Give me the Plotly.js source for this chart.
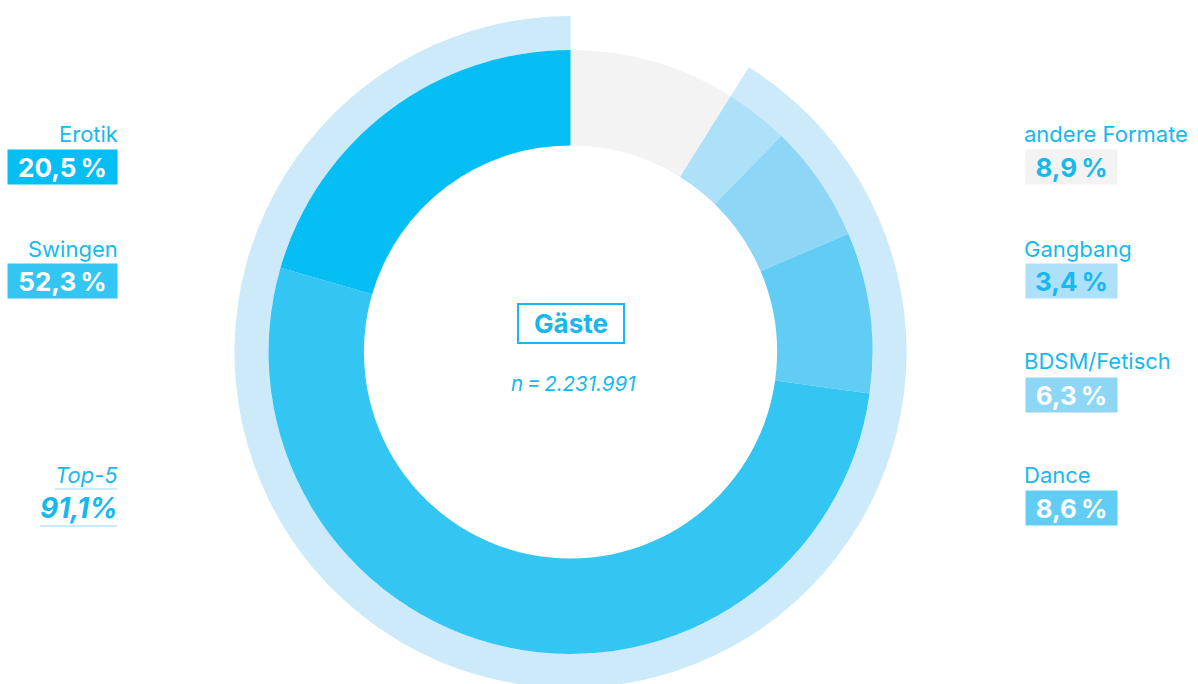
<!DOCTYPE html>
<html>
<head>
<meta charset="utf-8">
<script src="https://cdn.plot.ly/plotly-3.0.1.min.js"></script>
<style>
html,body{margin:0;padding:0;overflow:hidden;background:#fff;}
#chart{width:1198px;height:720px;}
</style>
</head>
<body>
<div id="chart"></div>
<script>
// ---- data ----
const categories = ["andere Formate", "Gangbang", "BDSM/Fetisch", "Dance", "Swingen", "Erotik"];
const shares = [8.9, 3.4, 6.3, 8.6, 52.3, 20.5];
const valueLabels = ["8,9\u2009%", "3,4\u2009%", "6,3\u2009%", "8,6\u2009%", "52,3\u2009%", "20,5\u2009%"];
const groupNames = ["andere Formate", "Top-5"];
const groupShares = [8.9, 91.1];
const groupLabel = "Top-5";
const groupValueLabel = "91,1%";
const centerTitle = "Gäste";
const centerSub = "n\u2009=\u20092.231.991";

// ---- style ----
const W = 1198, H = 720;
const px = x => x / W;
const py = y => 1 - y / H;
const blue = "#17b8ee";
const sliceColors = ["#f3f3f3", "#ade0f9", "#8dd6f5", "#62cdf4", "#33c6f3", "#05bef4"];
const groupColors = ["rgba(0,0,0,0)", "#cceafa"];
const valueTextColors = [blue, blue, "#ffffff", "#ffffff", "#ffffff", "#ffffff"];
const FONT = "Inter, 'Open Sans', sans-serif";

const traces = [
  {
    type: "pie", labels: groupNames, values: groupShares, sort: false,
    direction: "clockwise", rotation: 0, hole: 0.899,
    marker: {colors: groupColors, line: {width: 0}},
    textinfo: "none", hoverinfo: "skip", showlegend: false,
    domain: {x: [px(234.5), px(906.5)], y: [py(688), py(16)]}
  },
  {
    type: "pie", labels: categories, values: shares, sort: false,
    direction: "clockwise", rotation: 0, hole: 0.684,
    marker: {colors: sliceColors, line: {width: 0}},
    textinfo: "none", hoverinfo: "skip", showlegend: false,
    domain: {x: [px(268.5), px(872.5)], y: [py(654), py(50)]}
  }
];

// label positions (pixel layout)
const layoutPos = {
  "Erotik": {side: "left", label: 134, box: 167.5},
  "Swingen": {side: "left", label: 249, box: 280.5},
  "andere Formate": {side: "right", label: 134, box: 167.5},
  "Gangbang": {side: "right", label: 249, box: 280.5},
  "BDSM/Fetisch": {side: "right", label: 361, box: 394.5},
  "Dance": {side: "right", label: 475, box: 507.5}
};

const annotations = [];
categories.forEach((c, i) => {
  const p = layoutPos[c];
  const left = p.side === "left";
  annotations.push({
    xref: "paper", yref: "paper", showarrow: false,
    x: left ? px(120) : px(1022), xanchor: left ? "right" : "left",
    y: py(p.label), yanchor: "middle",
    text: c, font: {family: FONT, size: 22, color: blue}
  });
  annotations.push({
    xref: "paper", yref: "paper", showarrow: false,
    x: left ? px(118) : px(1025), xanchor: left ? "right" : "left",
    y: py(p.box), yanchor: "middle",
    width: left ? 109 : 91, height: 34, borderpad: 0, align: "center",
    bgcolor: sliceColors[i],
    text: "<b>" + valueLabels[i] + "</b>",
    font: {family: FONT, size: 26, color: valueTextColors[i]}
  });
});

annotations.push({
  xref: "paper", yref: "paper", showarrow: false,
  x: px(120), xanchor: "right", y: py(475), yanchor: "middle",
  text: groupLabel, font: {family: FONT, size: 22, color: blue, style: "italic"}
});
annotations.push({
  xref: "paper", yref: "paper", showarrow: false,
  x: px(120), xanchor: "right", y: py(507.5), yanchor: "middle",
  text: "<b>" + groupValueLabel + "</b>", font: {family: FONT, size: 28, color: blue, style: "italic"}
});
annotations.push({
  xref: "paper", yref: "paper", showarrow: false,
  x: px(571), xanchor: "center", y: py(323), yanchor: "middle",
  width: 104, height: 37, borderpad: 0, bordercolor: blue, borderwidth: 2,
  text: "<b>" + centerTitle + "</b>", font: {family: FONT, size: 26, color: blue}
});
annotations.push({
  xref: "paper", yref: "paper", showarrow: false,
  x: px(573), xanchor: "center", y: py(383), yanchor: "middle",
  text: centerSub, font: {family: FONT, size: 20.5, color: blue, style: "italic"}
});

const shapes = [
  {type: "line", xref: "paper", yref: "paper", x0: px(55), x1: px(117), y0: py(489), y1: py(489), line: {color: "#cceafa", width: 2}},
  {type: "line", xref: "paper", yref: "paper", x0: px(40), x1: px(117), y0: py(526), y1: py(526), line: {color: "#cceafa", width: 2}}
];

const layout = {
  width: W, height: H,
  margin: {l: 0, r: 0, t: 0, b: 0},
  paper_bgcolor: "#ffffff",
  showlegend: false,
  annotations: annotations,
  shapes: shapes,
  font: {family: FONT}
};

Plotly.newPlot("chart", traces, layout, {displayModeBar: false, staticPlot: true});
</script>
</body>
</html>
